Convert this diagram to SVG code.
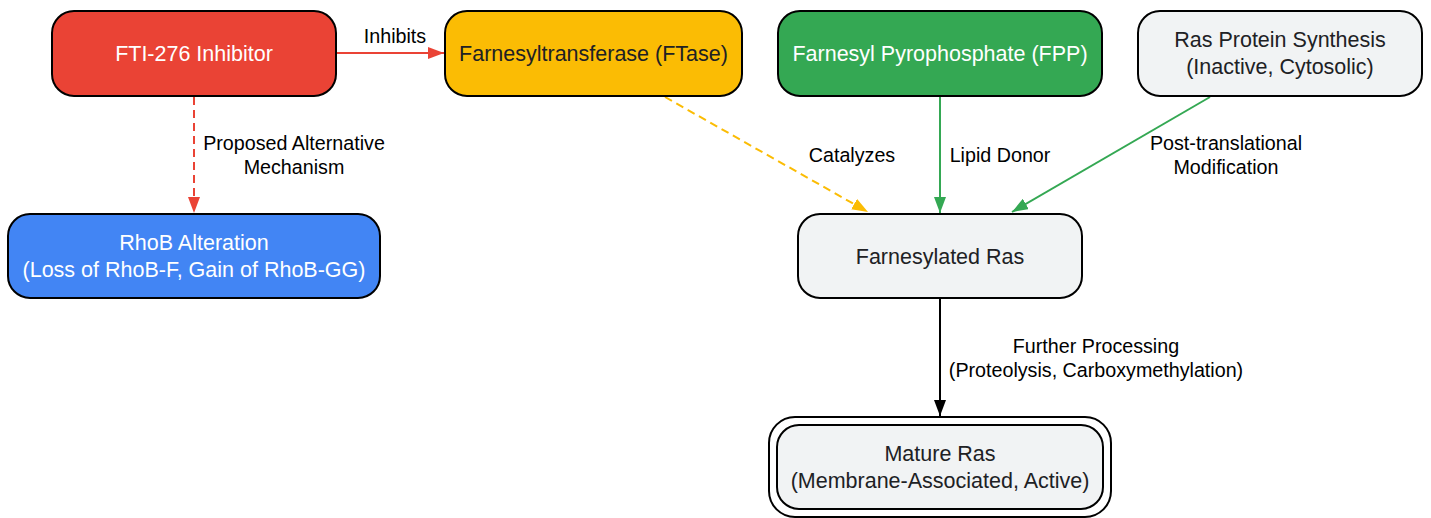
<svg xmlns="http://www.w3.org/2000/svg" width="1431" height="518" viewBox="0 0 1431 518">
<defs>
<style>
.n{stroke:#000;stroke-width:2}
.t{font-family:"Liberation Sans",Arial,sans-serif;font-size:21.5px;text-anchor:middle}
.w{fill:#fff}
.d{fill:#202124}
.l{font-family:"Liberation Sans",Arial,sans-serif;font-size:19.7px;fill:#000;text-anchor:middle}
.e{fill:none;stroke-width:2}
</style>
<marker id="ar" viewBox="0 0 16 12" refX="16" refY="6" markerWidth="16" markerHeight="12" markerUnits="userSpaceOnUse" orient="auto"><path d="M0,0L16,6L0,12z" fill="#EA4335"/></marker>
<marker id="ay" viewBox="0 0 16 12" refX="16" refY="6" markerWidth="16" markerHeight="12" markerUnits="userSpaceOnUse" orient="auto"><path d="M0,0L16,6L0,12z" fill="#FBBC04"/></marker>
<marker id="ag" viewBox="0 0 16 12" refX="16" refY="6" markerWidth="16" markerHeight="12" markerUnits="userSpaceOnUse" orient="auto"><path d="M0,0L16,6L0,12z" fill="#34A853"/></marker>
<marker id="ak" viewBox="0 0 16 12" refX="16" refY="6" markerWidth="16" markerHeight="12" markerUnits="userSpaceOnUse" orient="auto"><path d="M0,0L16,6L0,12z" fill="#000"/></marker>
</defs>
<rect width="1431" height="518" fill="#fff"/>
<g id="connectors">
<line class="e" x1="337" y1="53" x2="444" y2="53" stroke="#EA4335" marker-end="url(#ar)"/>
<line class="e" x1="194" y1="97" x2="194" y2="213" stroke="#EA4335" stroke-dasharray="8,5" marker-end="url(#ar)"/>
<line class="e" x1="665" y1="97" x2="868" y2="212" stroke="#FBBC04" stroke-dasharray="8,5" marker-end="url(#ay)"/>
<line class="e" x1="940" y1="97" x2="940" y2="213" stroke="#34A853" marker-end="url(#ag)"/>
<line class="e" x1="1210" y1="97" x2="1012" y2="212" stroke="#34A853" marker-end="url(#ag)"/>
<line class="e" x1="940" y1="299" x2="940" y2="416" stroke="#000" marker-end="url(#ak)"/>
<text class="l" x="395" y="43">Inhibits</text>
<text class="l" x="294" y="150">Proposed Alternative</text>
<text class="l" x="294" y="174">Mechanism</text>
<text class="l" x="852" y="162">Catalyzes</text>
<text class="l" x="1000" y="162">Lipid Donor</text>
<text class="l" x="1226" y="150">Post-translational</text>
<text class="l" x="1226" y="174">Modification</text>
<text class="l" x="1096" y="353">Further Processing</text>
<text class="l" x="1096" y="377">(Proteolysis, Carboxymethylation)</text>
</g>
<g id="fti">
<rect class="n" x="52" y="11" width="284" height="85" rx="22" fill="#EA4335"/>
<text class="t w" x="194" y="61">FTI-276 Inhibitor</text>
</g>
<g id="ftase">
<rect class="n" x="445" y="11" width="297" height="85" rx="22" fill="#FBBC04"/>
<text class="t d" x="593.5" y="61">Farnesyltransferase (FTase)</text>
</g>
<g id="fpp">
<rect class="n" x="778" y="11" width="324" height="85" rx="22" fill="#34A853"/>
<text class="t w" x="940" y="61">Farnesyl Pyrophosphate (FPP)</text>
</g>
<g id="rassynth">
<rect class="n" x="1138" y="11" width="284" height="85" rx="22" fill="#F1F3F4"/>
<text class="t d" x="1280" y="47">Ras Protein Synthesis</text>
<text class="t d" x="1280" y="74">(Inactive, Cytosolic)</text>
</g>
<g id="rhob">
<rect class="n" x="8" y="214" width="372" height="84" rx="22" fill="#4285F4"/>
<text class="t w" x="194" y="250">RhoB Alteration</text>
<text class="t w" x="194" y="277">(Loss of RhoB-F, Gain of RhoB-GG)</text>
</g>
<g id="farnras">
<rect class="n" x="798" y="214" width="284" height="84" rx="22" fill="#F1F3F4"/>
<text class="t d" x="940" y="264">Farnesylated Ras</text>
</g>
<g id="mature">
<rect x="769" y="417" width="342" height="100" rx="26" fill="none" stroke="#000" stroke-width="2"/>
<rect class="n" x="777" y="425" width="326" height="84" rx="22" fill="#F1F3F4"/>
<text class="t d" x="940" y="461">Mature Ras</text>
<text class="t d" x="940" y="488">(Membrane-Associated, Active)</text>
</g>
</svg>
